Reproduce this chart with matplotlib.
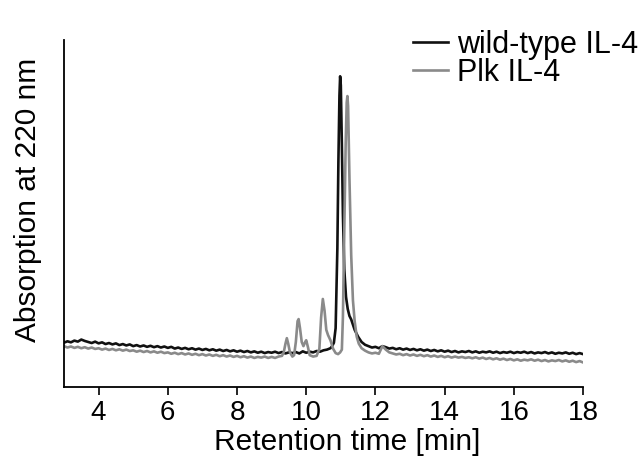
import numpy as np
import matplotlib
matplotlib.use("Agg")
import matplotlib.pyplot as plt

plt.rcParams['font.family'] = ['Liberation Sans', 'DejaVu Sans']

# wild-type IL-4 (black trace)
wt_pre_t = np.linspace(3.0, 10.7, 78)
wt_pre_y = [0.128, 0.132, 0.129, 0.134, 0.131, 0.137, 0.133, 0.130, 0.127, 0.131,
            0.126, 0.129, 0.124, 0.127, 0.123, 0.126, 0.121, 0.124, 0.120, 0.123,
            0.118, 0.121, 0.117, 0.120, 0.116, 0.119, 0.115, 0.118, 0.114, 0.117,
            0.113, 0.116, 0.111, 0.114, 0.110, 0.113, 0.109, 0.112, 0.108, 0.111,
            0.107, 0.110, 0.106, 0.109, 0.105, 0.108, 0.104, 0.107, 0.103, 0.106,
            0.102, 0.105, 0.101, 0.104, 0.100, 0.103, 0.099, 0.102, 0.098, 0.101,
            0.099, 0.102, 0.098, 0.101, 0.097, 0.100, 0.098, 0.101, 0.097, 0.103,
            0.099, 0.102, 0.100, 0.104, 0.102, 0.106, 0.108, 0.112]
wt_peak_t = [10.75, 10.8, 10.85, 10.9, 10.93, 10.96, 10.98, 11.0, 11.03, 11.06,
             11.1, 11.15, 11.2, 11.25, 11.3, 11.35, 11.4, 11.5, 11.6, 11.7]
wt_peak_y = [0.118, 0.128, 0.170, 0.400, 0.650, 0.840, 0.896, 0.870, 0.700, 0.500,
             0.340, 0.260, 0.225, 0.205, 0.195, 0.180, 0.165, 0.145, 0.130, 0.122]
wt_post_t = np.linspace(11.8, 18.0, 63)
wt_post_y = [0.118, 0.114, 0.116, 0.112, 0.118, 0.115, 0.111, 0.113, 0.109, 0.112,
             0.108, 0.111, 0.107, 0.110, 0.106, 0.109, 0.105, 0.108, 0.104, 0.107,
             0.103, 0.106, 0.102, 0.105, 0.101, 0.104, 0.100, 0.103, 0.101, 0.104,
             0.100, 0.103, 0.099, 0.102, 0.100, 0.103, 0.099, 0.102, 0.098, 0.101,
             0.099, 0.102, 0.098, 0.101, 0.099, 0.102, 0.098, 0.101, 0.097, 0.100,
             0.098, 0.101, 0.097, 0.100, 0.096, 0.099, 0.097, 0.100, 0.096, 0.099,
             0.095, 0.098, 0.095]

# Plk IL-4 (grey trace)
plk_pre_t = np.linspace(3.0, 9.3, 64)
plk_pre_y = [0.118, 0.114, 0.117, 0.113, 0.116, 0.112, 0.115, 0.111, 0.114, 0.110,
             0.112, 0.108, 0.111, 0.107, 0.110, 0.106, 0.109, 0.105, 0.108, 0.104,
             0.106, 0.102, 0.105, 0.101, 0.104, 0.100, 0.103, 0.099, 0.102, 0.098,
             0.100, 0.096, 0.099, 0.095, 0.098, 0.094, 0.097, 0.093, 0.096, 0.092,
             0.095, 0.091, 0.094, 0.090, 0.093, 0.089, 0.092, 0.088, 0.091, 0.087,
             0.090, 0.086, 0.089, 0.085, 0.088, 0.084, 0.087, 0.085, 0.088, 0.084,
             0.087, 0.084, 0.088, 0.090]
plk_peak_t = [9.35, 9.4, 9.44, 9.48, 9.53, 9.6, 9.65, 9.7, 9.75, 9.78,
              9.82, 9.87, 9.92, 9.97, 10.0, 10.05, 10.1, 10.2, 10.3, 10.38,
              10.43, 10.48, 10.53, 10.58, 10.63, 10.7, 10.78, 10.85, 10.92, 10.98,
              11.03, 11.06, 11.1, 11.14, 11.17, 11.19, 11.21, 11.25, 11.3, 11.35,
              11.4, 11.46, 11.52, 11.6, 11.7]
plk_peak_y = [0.100, 0.125, 0.141, 0.125, 0.100, 0.088, 0.092, 0.130, 0.190, 0.196,
              0.170, 0.130, 0.118, 0.130, 0.135, 0.115, 0.092, 0.088, 0.090, 0.110,
              0.200, 0.254, 0.220, 0.165, 0.150, 0.135, 0.110, 0.098, 0.095, 0.100,
              0.108, 0.200, 0.450, 0.700, 0.820, 0.839, 0.810, 0.600, 0.380, 0.250,
              0.190, 0.145, 0.125, 0.112, 0.105]
plk_post_t = np.linspace(11.8, 18.0, 63)
plk_post_y = [0.100, 0.097, 0.099, 0.096, 0.118, 0.108, 0.100, 0.097, 0.094, 0.096,
              0.092, 0.095, 0.091, 0.094, 0.090, 0.093, 0.089, 0.092, 0.088, 0.091,
              0.087, 0.090, 0.086, 0.089, 0.085, 0.088, 0.085, 0.087, 0.084, 0.086,
              0.083, 0.086, 0.082, 0.085, 0.081, 0.084, 0.080, 0.083, 0.079, 0.082,
              0.078, 0.081, 0.077, 0.080, 0.076, 0.079, 0.077, 0.080, 0.076, 0.079,
              0.075, 0.078, 0.074, 0.077, 0.075, 0.078, 0.074, 0.077, 0.073, 0.076,
              0.072, 0.075, 0.071]

xticks = [4, 6, 8, 10, 12, 14, 16, 18]

wt_t = np.concatenate([wt_pre_t, wt_peak_t, wt_post_t])
wt_y = np.concatenate([wt_pre_y, wt_peak_y, wt_post_y])
plk_t = np.concatenate([plk_pre_t, plk_peak_t, plk_post_t])
plk_y = np.concatenate([plk_pre_y, plk_peak_y, plk_post_y])

fig = plt.figure(figsize=(6.4, 4.57), dpi=100)
ax = fig.add_axes([0.1, 0.153, 0.811, 0.759])

ax.plot(wt_t, wt_y, color='#111111', lw=1.9, label='wild-type IL-4')
ax.plot(plk_t, plk_y, color='#8a8a8a', lw=1.9, label='Plk IL-4')

ax.set_xlim(3, 18)
ax.set_ylim(0, 1)
ax.set_xticks(xticks)
ax.set_yticks([])
ax.tick_params(axis='x', labelsize=20, length=6, width=1.2, pad=3)
for s in ['top', 'right']:
    ax.spines[s].set_visible(False)
for s in ['left', 'bottom']:
    ax.spines[s].set_linewidth(1.3)

ax.set_xlabel('Retention time [min]', fontsize=21.5)
ax.xaxis.set_label_coords(0.545, -0.118)
ax.set_ylabel('Absorption at 220 nm', fontsize=21.5)
ax.yaxis.set_label_coords(-0.042, 0.539)

ax.legend(loc='upper left', bbox_to_anchor=(0.645, 0.935), bbox_transform=fig.transFigure,
          frameon=False, fontsize=22, handlelength=1.15, handletextpad=0.3,
          labelspacing=-0.05, borderpad=0, borderaxespad=0)

fig.savefig('out.png', dpi=100)
